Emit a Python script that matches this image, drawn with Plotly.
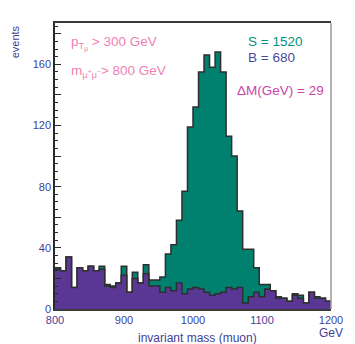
import plotly.graph_objects as go

# Dimuon invariant-mass histogram: 8 GeV bins from 800 to 1200 GeV
bin_start = 800
bin_width = 8

background = [26, 25, 34, 14, 27, 25, 28, 25, 26, 15,
              14, 17, 22, 11, 20, 17, 23, 15, 15, 11,
              14, 12, 17, 10, 13, 14, 13, 11, 9, 10,
              11, 14, 13, 14, 4, 8, 11, 8, 13, 12,
              7, 7, 5, 9, 7, 4, 11, 7, 7, 5]

signal = [1, 0, 0, 0, 0, 0, 0, 0, 2, 1,
          1, 0, 6, 0, 4, 0, 6, 4, 4, 10,
          22, 30, 41, 67, 106, 118, 142, 155, 149, 158,
          144, 99, 87, 50, 35, 31, 16, 8, 3, 0,
          1, 0, 0, 1, 2, 0, 0, 1, 0, 0]

y_tick_vals = [0, 20, 40, 60, 80, 100, 120, 140, 160, 180]
y_tick_text = ["0", "", "40", "", "80", "", "120", "", "160", ""]
x_tick_vals = [800, 900, 1000, 1100, 1200]
x_tick_text = ["800", "900", "1000", "1100", "1200"]

TEAL = "#00806f"
PURPLE = "#5b3795"
EDGE = "#2e2e2e"
AXIS_BLUE = "#3f3f98"
FONT = "Liberation Sans, Arial, sans-serif"

edges = [bin_start + i * bin_width for i in range(len(background) + 1)]
total = [b + s for b, s in zip(background, signal)]


def step_y(values):
    # repeat the last bin so the hv step reaches the upper edge
    return list(values) + [values[-1]]


fig = go.Figure()
fig.add_trace(go.Scatter(
    x=edges, y=step_y(total), mode="lines", line_shape="hv",
    line=dict(color=EDGE, width=1.5), fill="tozeroy", fillcolor=TEAL,
    hoverinfo="skip", showlegend=False))
fig.add_trace(go.Scatter(
    x=edges, y=step_y(background), mode="lines", line_shape="hv",
    line=dict(color=EDGE, width=1.5), fill="tozeroy", fillcolor=PURPLE,
    hoverinfo="skip", showlegend=False))

fig.update_layout(
    width=355, height=344,
    margin=dict(l=55, r=14, t=23, b=35),
    paper_bgcolor="white", plot_bgcolor="white",
    font=dict(family=FONT, color=AXIS_BLUE, size=11),
    xaxis=dict(range=[800, 1200], tickvals=x_tick_vals, ticktext=x_tick_text,
               showline=True, linecolor="#3a3a3a", linewidth=1.5, mirror=True,
               ticks="", showgrid=False, zeroline=False,
               tickfont=dict(size=11, color=AXIS_BLUE)),
    yaxis=dict(range=[0, 187], tickvals=y_tick_vals, ticktext=y_tick_text,
               showline=True, linecolor="#2a2a2a", linewidth=1.5,
               ticks="inside", ticklen=6, tickcolor="#2a2a2a", tickwidth=1,
               minor=dict(dtick=5, ticks="inside", ticklen=3,
                          tickcolor="#2a2a2a", tickwidth=1),
               showgrid=False, zeroline=False,
               tickfont=dict(size=11, color=AXIS_BLUE)),
    shapes=[dict(type="line", xref="paper", yref="paper", x0=1, x1=1, y0=0, y1=1,
                 line=dict(color="#9a9a9a", width=1.5))],
)

annotations = [
    dict(text="events", x=-0.147, y=0.934, textangle=-90,
         font=dict(size=11, color=AXIS_BLUE), xanchor="center", yanchor="middle"),
    dict(text="S = 1520", x=0.691, y=0.934,
         font=dict(size=13.5, color="#00927e"), xanchor="left", yanchor="middle"),
    dict(text="B = 680", x=0.691, y=0.880,
         font=dict(size=13.5, color="#4a4a9c"), xanchor="left", yanchor="middle"),
    dict(text="\u0394M(GeV) = 29", x=0.653, y=0.763,
         font=dict(size=13.5, color="#cc44a8"), xanchor="left", yanchor="middle"),
    dict(text="p<sub>T<sub>\u03bc</sub></sub> > 300 GeV", x=0.052, y=0.93,
         font=dict(size=13.5, color="#f07fb4"), xanchor="left", yanchor="middle"),
    dict(text="m<sub>\u03bc<sup>+</sup>\u03bc<sup>\u2212</sup></sub>> 800 GeV", x=0.052, y=0.832,
         font=dict(size=13.5, color="#f07fb4"), xanchor="left", yanchor="middle"),
    dict(text="invariant mass (muon)", x=0.517, y=-0.101,
         font=dict(size=12, color=AXIS_BLUE), xanchor="center", yanchor="middle"),
    dict(text="GeV", x=1.0, y=-0.084,
         font=dict(size=12, color=AXIS_BLUE), xanchor="center", yanchor="middle"),
]
for a in annotations:
    a.update(xref="paper", yref="paper", showarrow=False)
fig.update_layout(annotations=annotations)

fig.write_html("out.html")
